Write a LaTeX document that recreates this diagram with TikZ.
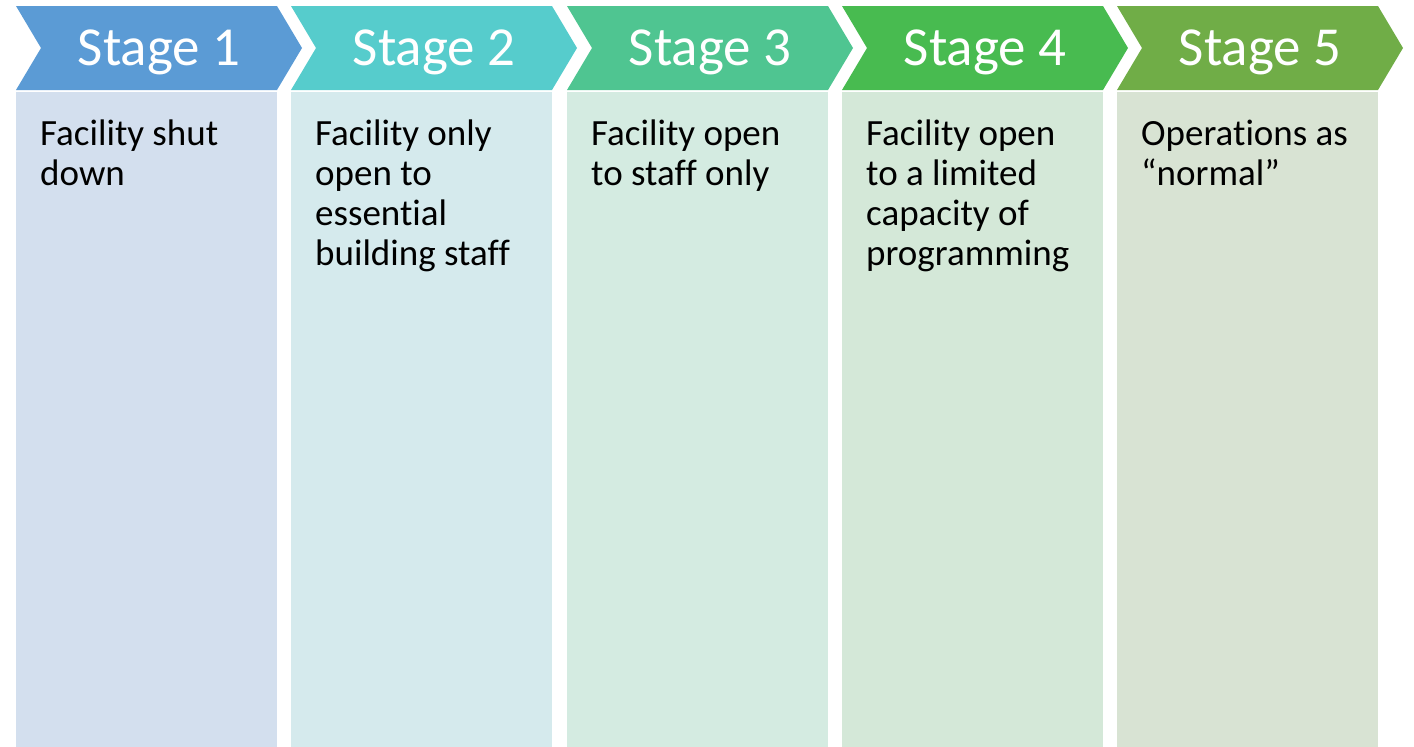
\documentclass[tikz,border=0pt]{standalone}
\usepackage{fontspec}
\setmainfont{Carlito}[Ligatures=NoCommon]
\usetikzlibrary{positioning}
\definecolor{stageone}{RGB}{91,155,213}
\definecolor{stagetwo}{RGB}{86,204,204}
\definecolor{stagethree}{RGB}{79,197,145}
\definecolor{stagefour}{RGB}{72,187,80}
\definecolor{stagefive}{RGB}{112,173,71}
\definecolor{bodyone}{RGB}{211,223,238}
\definecolor{bodytwo}{RGB}{213,234,237}
\definecolor{bodythree}{RGB}{212,235,225}
\definecolor{bodyfour}{RGB}{212,232,216}
\definecolor{bodyfive}{RGB}{216,227,211}

\begin{document}
\begin{tikzpicture}[x=1pt, y=-1pt,
    head/.style={text=white, anchor=base, inner sep=0, font=\fontsize{55}{60}\selectfont},
    panel/.style={rectangle, anchor=north west, minimum width=261pt, minimum height=655pt, inner sep=0, outer sep=0},
    note/.style={align=left, inner sep=0, font=\fontsize{37}{40}\selectfont}
]
    \useasboundingbox (0,0) rectangle (1414,747);

    % Chevrons
    \fill[stageone]   (16,6)   -- (277,6)   -- (302,48)  -- (277,90)   -- (16,90)   -- (41,48)   -- cycle;
    \fill[stagetwo]   (291,6)  -- (552,6)   -- (577,48)  -- (552,90)   -- (291,90)  -- (316,48)  -- cycle;
    \fill[stagethree] (567,6)  -- (828,6)   -- (853,48)  -- (828,90)   -- (567,90)  -- (592,48)  -- cycle;
    \fill[stagefour]  (842,6)  -- (1103,6)  -- (1128,48) -- (1103,90)  -- (842,90)  -- (867,48)  -- cycle;
    \fill[stagefive]  (1117,6) -- (1378,6)  -- (1403,48) -- (1378,90)  -- (1117,90) -- (1142,48) -- cycle;

    \node[head] (h1) at (159,65)  {Stage 1};
    \node[head] (h2) at (434,65)  {Stage 2};
    \node[head] (h3) at (710,65)  {Stage 3};
    \node[head] (h4) at (985,65)  {Stage 4};
    \node[head] (h5) at (1260,65) {Stage 5};

    % Panels
    \node[panel, fill=bodyone]   (p1) at (16,92)   {};
    \node[panel, fill=bodytwo]   (p2) at (291,92)  {};
    \node[panel, fill=bodythree] (p3) at (567,92)  {};
    \node[panel, fill=bodyfour]  (p4) at (842,92)  {};
    \node[panel, fill=bodyfive]  (p5) at (1117,92) {};

    % Panel texts
    \node[note, below right=28pt and 24pt of p1.north west] (t1) {Facility shut\\down};
    \node[note, below right=28pt and 24pt of p2.north west] (t2) {Facility only\\open to\\essential\\building staff};
    \node[note, below right=28pt and 24pt of p3.north west] (t3) {Facility open\\to staff only};
    \node[note, below right=28pt and 24pt of p4.north west] (t4) {Facility open\\to a limited\\capacity of\\programming};
    \node[note, below right=28pt and 24pt of p5.north west] (t5) {Operations as\\“normal”};
\end{tikzpicture}
\end{document}
